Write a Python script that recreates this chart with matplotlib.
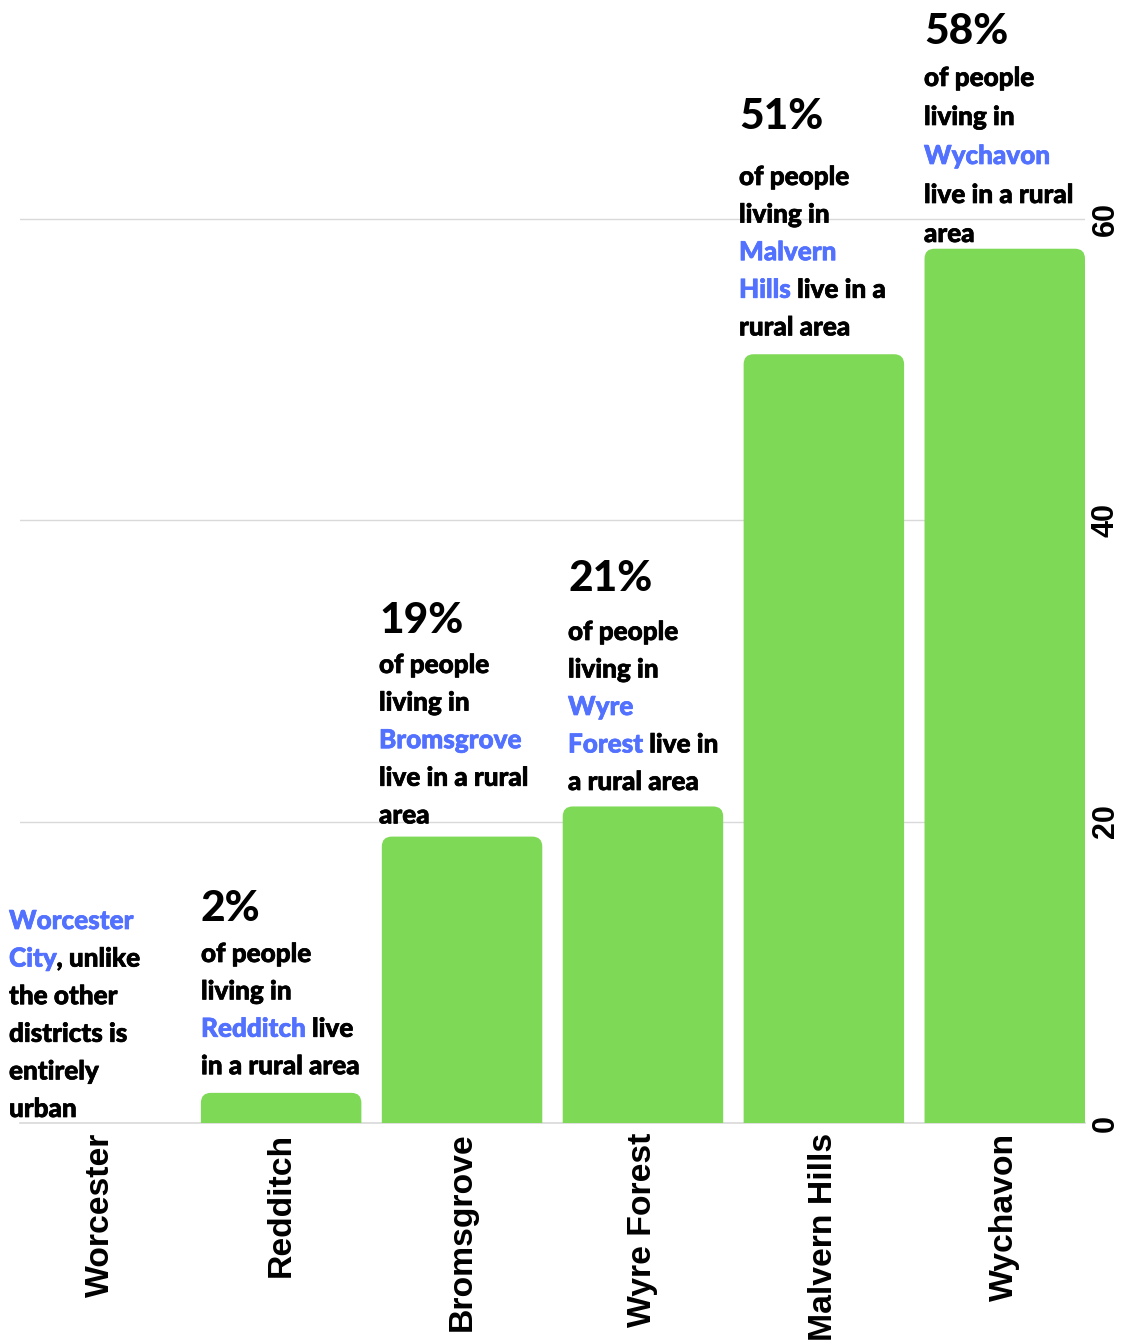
import matplotlib
matplotlib.use("Agg")
import matplotlib.pyplot as plt
import matplotlib.patheffects as pe
from matplotlib.patches import FancyBboxPatch
from matplotlib import font_manager as fm

# Share of residents living in rural areas, by Worcestershire district (%)
districts = ["Worcester", "Redditch", "Bromsgrove", "Wyre Forest", "Malvern Hills", "Wychavon"]
rural_pct = [0, 2, 19, 21, 51, 58]
y_ticks = [0, 20, 40, 60]

# Caption lines per district; *...* marks the highlighted district name
captions = [
    ["*Worcester*", "*City*, unlike", "the other", "districts is", "entirely", "urban"],
    ["of people", "living in", "*Redditch* live", "in a rural area"],
    ["of people", "living in", "*Bromsgrove*", "live in a rural", "area"],
    ["of people", "living in", "*Wyre*", "*Forest* live in", "a rural area"],
    ["of people", "living in", "*Malvern*", "*Hills* live in a", "rural area"],
    ["of people", "living in", "*Wychavon*", "live in a rural", "area"],
]
show_pct = [False, True, True, True, True, True]

# Caption placement in pixels: left x, big-number baseline, first body baseline, line step
caption_layout = [
    (9, None, 929, 37.6),
    (201, 921, 962, 37.4),
    (379, 633, 673, 37.6),
    (568, 591, 640, 37.5),
    (739, 129, 185, 37.6),
    (924, 44, 86, 39.0),
]

GREEN = "#7ed957"
BLUE = "#5271ff"
GRID = "#d9d9d9"


def lato_file(fname):
    for f in fm.fontManager.ttflist:
        if f.fname.endswith(fname):
            return f.fname
    return None


black_path = lato_file("Lato-Black.ttf")
if black_path:
    body_fp = fm.FontProperties(fname=black_path, size=18.8)
    pct_fp = fm.FontProperties(fname=black_path, size=30.5)
else:
    body_fp = fm.FontProperties(family="Lato", weight=900, size=18.8)
    pct_fp = fm.FontProperties(family="Lato", weight=900, size=30.5)

W, H = 1123, 1341
fig = plt.figure(figsize=(W / 100, H / 100), dpi=100)
ax_left, ax_right, ax_bottom = 20, 1085, 1123
ax = fig.add_axes([ax_left / W, (H - ax_bottom) / H, (ax_right - ax_left) / W, ax_bottom / H])

bar_w = 0.887
x = list(range(len(districts)))
ax.set_xlim(-0.4435, len(districts) - 1 + 0.4435)
ax.set_ylim(0, 74.5)

# aspect ratio between data units per pixel in y and x, for circular corners
ax_w_px = ax_right - ax_left
ax_h_px = ax_bottom
x_span = ax.get_xlim()[1] - ax.get_xlim()[0]
y_span = ax.get_ylim()[1] - ax.get_ylim()[0]
aspect = (y_span / ax_h_px) / (x_span / ax_w_px)
r = 10 * x_span / ax_w_px

for xi, v in zip(x, rural_pct):
    if v <= 0:
        continue
    patch = FancyBboxPatch((xi - bar_w / 2, -3), bar_w, v + 3,
                           boxstyle=f"round,pad=0,rounding_size={r}",
                           mutation_aspect=aspect, facecolor=GREEN,
                           edgecolor="none", zorder=2)
    ax.add_patch(patch)

# grid and axes styling
ax.set_yticks(y_ticks)
ax.yaxis.grid(True, color=GRID, lw=1, zorder=0)
ax.set_axisbelow(True)
ax.axhline(0, color=GRID, lw=1.2, zorder=1, clip_on=False)
for s in ax.spines.values():
    s.set_visible(False)
ax.yaxis.tick_right()
ax.set_yticklabels([str(t) for t in y_ticks], rotation=90, va="center",
                   fontfamily="Liberation Sans", fontweight="bold", fontsize=22)
ax.set_xticks(x)
ax.set_xticklabels(districts, rotation=90, ha="center", va="top",
                   fontfamily="Liberation Sans", fontweight="bold", fontsize=24.3)
ax.tick_params(axis="both", length=0)
ax.tick_params(axis="x", pad=7)
ax.tick_params(axis="y", pad=4)

# caption text
renderer = fig.canvas.get_renderer()


def text_width(s, fp):
    t = fig.text(0, 0, "|" + s + "|", fontproperties=fp)
    w1 = t.get_window_extent(renderer).width
    t.set_text("||")
    w0 = t.get_window_extent(renderer).width
    t.remove()
    return w1 - w0


space_w = text_width(" ", body_fp)


def fig_xy(px, py):
    return px / W, 1 - py / H


def draw_line(px, py, line):
    parts = line.split("*")
    cursor = px
    for i, part in enumerate(parts):
        if not part:
            continue
        color = BLUE if i % 2 == 1 else "black"
        lead = len(part) - len(part.lstrip(" "))
        trail = len(part) - len(part.rstrip(" "))
        core = part.strip(" ")
        cursor += lead * space_w
        fx, fy = fig_xy(cursor, py)
        fig.text(fx, fy, core, color=color, ha="left", va="baseline", zorder=5,
                 fontproperties=body_fp,
                 path_effects=[pe.withStroke(linewidth=0.5, foreground=color)])
        cursor += text_width(core, body_fp) + trail * space_w


for lines, show, v, (px, pct_y, first_y, step) in zip(captions, show_pct, rural_pct, caption_layout):
    if show and pct_y is not None:
        fx, fy = fig_xy(px, pct_y)
        fig.text(fx, fy, f"{v}%", color="black", ha="left", va="baseline", zorder=5,
                 fontproperties=pct_fp)
    for k, line in enumerate(lines):
        draw_line(px, first_y + k * step, line)

fig.savefig("out.png", dpi=100, facecolor="white")
